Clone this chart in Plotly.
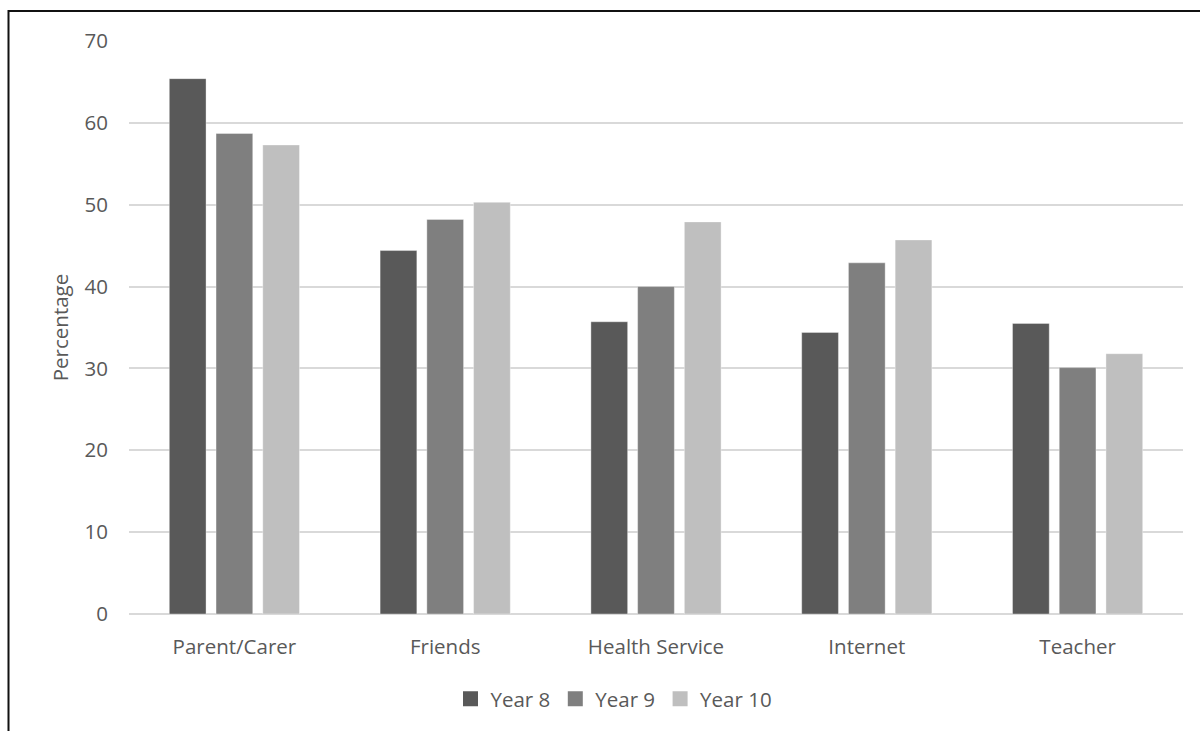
import plotly.graph_objects as go

# Sources of information, by school year (percentage of students)
categories = ["Parent/Carer", "Friends", "Health Service", "Internet", "Teacher"]
year8 = [65.4, 44.4, 35.7, 34.4, 35.5]
year9 = [58.7, 48.2, 40.0, 42.9, 30.1]
year10 = [57.3, 50.3, 47.9, 45.7, 31.8]

series_names = ["Year 8", "Year 9", "Year 10"]
series_colors = ["#595959", "#7f7f7f", "#bfbfbf"]
y_ticks = [0, 10, 20, 30, 40, 50, 60, 70]

W, H = 1200, 731
ML, MR, MT, MB = 129, 17, 41, 117
plot_w = W - ML - MR
plot_h = H - MT - MB

FONT = "Open Sans"
FS = 20.5
TEXT_COLOR = "#595959"
GRID_COLOR = "#d9d9d9"

fig = go.Figure()
for name, vals, col in zip(series_names, [year8, year9, year10], series_colors):
    fig.add_trace(go.Bar(
        x=categories, y=vals, name=name, legendgroup=name, showlegend=False,
        marker=dict(color=col, line=dict(color="rgba(255,255,255,0.45)", width=0.8)),
    ))
    # legend key drawn as a larger square swatch
    fig.add_trace(go.Scatter(
        x=[None], y=[None], mode="markers", name=name, legendgroup=name,
        marker=dict(symbol="square", size=15, color=col),
    ))


def px_x(px):
    return (px - ML) / plot_w


def px_y(py):
    return (H - MB - py) / plot_h


# outer frame of the chart area (left and top edges)
x0, y0 = px_x(8.5), px_y(11)
fig.add_shape(
    type="path", xref="paper", yref="paper",
    path=f"M {x0},{px_y(740)} L {x0},{y0} L {px_x(1210)},{y0}",
    line=dict(color="#111111", width=2),
)

fig.update_layout(
    width=W, height=H,
    margin=dict(l=ML, r=MR, t=MT, b=MB, autoexpand=False),
    paper_bgcolor="white", plot_bgcolor="white",
    barmode="group", bargap=0.335, bargroupgap=0.214,
    font=dict(family=FONT, size=FS, color=TEXT_COLOR),
    showlegend=True,
    legend=dict(
        orientation="h", x=px_x(614), xanchor="center",
        y=px_y(699), yanchor="middle",
        font=dict(family=FONT, size=FS, color=TEXT_COLOR),
        itemwidth=30, traceorder="normal",
    ),
    xaxis=dict(
        showgrid=False, showline=False, zeroline=False,
        ticks="", tickfont=dict(size=FS, color=TEXT_COLOR),
        ticklabelstandoff=18,
    ),
    yaxis=dict(
        range=[0, 70], tickvals=y_ticks,
        showgrid=True, gridcolor=GRID_COLOR, gridwidth=1.8,
        zeroline=True, zerolinecolor=GRID_COLOR, zerolinewidth=1.8,
        showline=False, ticks="",
        tickfont=dict(size=FS, color=TEXT_COLOR),
        ticklabelstandoff=20,
        title=dict(text="Percentage", font=dict(size=FS, color=TEXT_COLOR), standoff=10),
    ),
)

fig.write_html("out.html")
